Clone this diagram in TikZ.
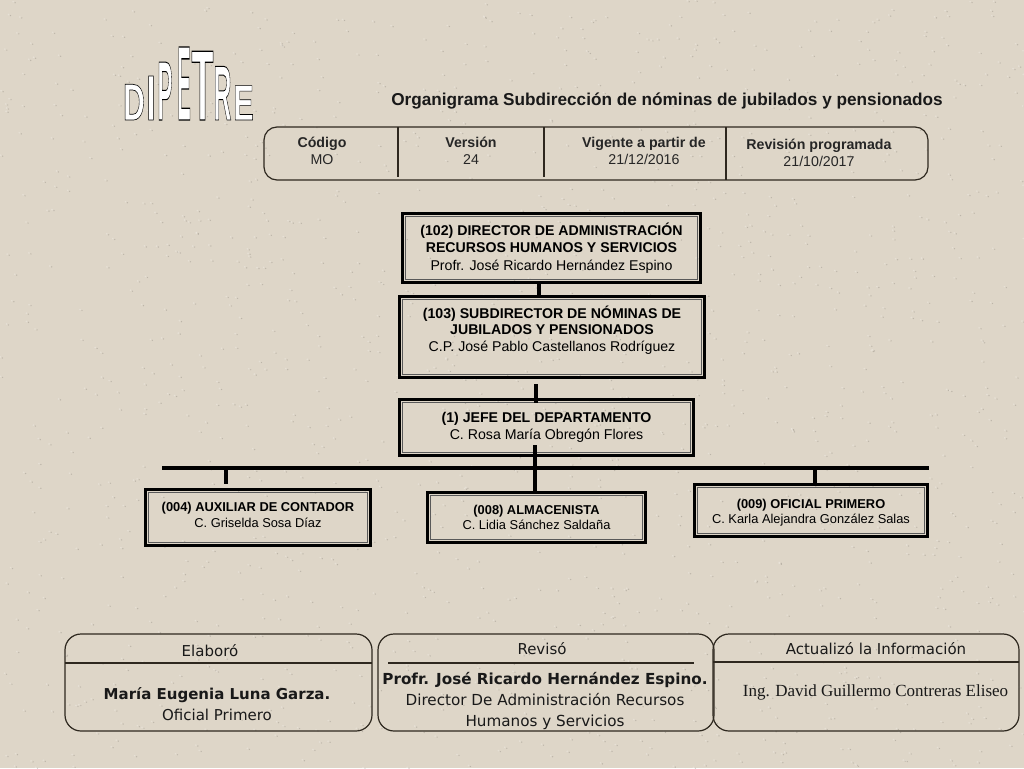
\documentclass[tikz,border=0pt]{standalone}
\usepackage{fontspec}
\setmainfont{Liberation Sans}
\newfontfamily\firmafont{DejaVu Sans}
\newfontfamily\romanfont{Liberation Serif}
\usetikzlibrary{positioning}

\definecolor{papel}{HTML}{DED6C8}
\definecolor{tinta}{HTML}{2E281F}

\tikzset{
  cargo/.style 2 args={draw=black, line width=3.2pt, inner sep=0pt, align=center, font=\fontsize{#1}{#2}\selectfont,
    path picture={\draw[line width=0.8pt, draw=black!65] ([xshift=3.2pt,yshift=-3.2pt]path picture bounding box.north west) rectangle ([xshift=-3.2pt,yshift=3.2pt]path picture bounding box.south east);}},
  linea/.style={line width=3.2pt, draw=black},
  marco/.style={draw=tinta, line width=1.2pt, rounded corners=13pt},
  raya/.style={draw=tinta, line width=1.1pt},
  celda/.style={align=center, font=\fontsize{14.2}{17}\selectfont, text=black!85},
  firma/.style={align=center, font=\firmafont\fontsize{15}{21}\selectfont, text=black!90},
  letra/.style={inner sep=0pt, anchor=base, font=\bfseries\fontsize{40}{40}\selectfont}
}
\newcommand{\hueca}[1]{\special{pdf:code 2 Tr 0.5 w 0 0 0 RG 1 1 1 rg}#1\special{pdf:code 0 Tr}}

\begin{document}
\begin{tikzpicture}[x=1pt, y=-1pt]
\useasboundingbox (0,0) rectangle (1024,768);
\fill[papel] (0,0) rectangle (1024,768);

% paper grain
\pgfmathsetseed{17}
\foreach \i in {1,...,1400} {
  \pgfmathsetmacro{\px}{1024*rnd}
  \pgfmathsetmacro{\py}{768*rnd}
  \fill[white, opacity=0.25] (\px,\py) circle (0.9);
  \fill[black!60!papel, opacity=0.25] (\px+2,\py+1) circle (0.7);
}

% logo
\node[letra, xscale=0.75, yscale=1.3] (d1) at (134,120) {\hueca{D}};
\node[letra, xscale=0.8, yscale=1.6] (i1) at (151,120) {\hueca{I}};
\node[letra, xscale=0.56, yscale=2.1] (p1) at (165,120) {\hueca{P}};
\node[letra, xscale=0.5, yscale=2.65] (e1) at (184,120) {\hueca{E}};
\node[letra, xscale=0.9, yscale=2.5] (t1) at (202.5,120) {\hueca{T}};
\node[letra, xscale=0.62, yscale=1.95] (r1) at (222.5,120) {\hueca{R}};
\node[letra, xscale=0.77, yscale=1.25] (e2) at (243.5,120) {\hueca{E}};

\node[font=\bfseries\fontsize{17.2}{20}\selectfont, text=black!90] (titulo) at (667,101) {Organigrama Subdirección de nóminas de jubilados y pensionados};

% datos del documento
\draw[marco] (264,127) rectangle (928,180);
\coordinate (d1a) at (398,127);
\coordinate (d1b) at (398,177);
\coordinate (d2a) at (544,127);
\coordinate (d2b) at (544,177);
\coordinate (d3a) at (726,127);
\coordinate (d3b) at (726,180);
\draw[raya] (d1a) -- (d1b);
\draw[raya] (d2a) -- (d2b);
\draw[raya] (d3a) -- (d3b);

\node[celda] (codigo) at (322,151) {\textbf{Código}\\MO};
\node[celda] (version) at (471,151) {\textbf{Versión}\\24};
\node[celda] (vigente) at (644,151) {\textbf{Vigente a partir de}\\21/12/2016};
\node[celda] (revision) at (819,153) {\textbf{Revisión programada}\\21/10/2017};

% organigrama
\node[cargo={14.15}{17.3}, minimum width=298pt, minimum height=69pt] (director) at (551.5,248) {\textbf{(102) DIRECTOR DE ADMINISTRACIÓN}\\\textbf{RECURSOS HUMANOS Y SERVICIOS}\\Profr. José Ricardo Hernández Espino};
\node[cargo={14.15}{16.8}, minimum width=305pt, minimum height=81pt] (subdir) at (552,337) {\textbf{(103) SUBDIRECTOR DE NÓMINAS DE}\\\textbf{JUBILADOS Y PENSIONADOS}\\C.P. José Pablo Castellanos Rodríguez\\~};
\node[cargo={14.15}{17.5}, minimum width=294pt, minimum height=56pt] (jefe) at (546.5,427.5) {\textbf{(1) JEFE DEL DEPARTAMENTO}\\C. Rosa María Obregón Flores};
\node[cargo={12.85}{15.5}, minimum width=225pt, minimum height=56pt] (auxiliar) at (258,517.5) {\textbf{(004) AUXILIAR DE CONTADOR}\\C. Griselda Sosa Díaz\\[-10.5pt]};
\node[cargo={12.85}{15.5}, minimum width=218pt, minimum height=50pt] (almacen) at (536.5,517.5) {\textbf{(008) ALMACENISTA}\\C. Lidia Sánchez Saldaña};
\node[cargo={12.85}{15.5}, minimum width=233pt, minimum height=52pt] (oficial) at (811,510.5) {\rule{0pt}{13.5pt}\textbf{(009) OFICIAL PRIMERO}\\C. Karla Alejandra González Salas};

\coordinate (busi) at (162,468);
\coordinate (busd) at (929,468);
\coordinate (bus1) at (226,468);
\coordinate (bus2) at (535,468);
\coordinate (bus3) at (815,468);

\draw[linea] ([xshift=-12.5pt]director.south) -- ([xshift=-13pt]subdir.north);
\draw[linea, shorten <=5pt, shorten >=-5pt] ([xshift=-16pt]subdir.south) -- ([xshift=-10.5pt]jefe.north);
\draw[linea, shorten <=-12pt] ([xshift=-11.5pt]jefe.south) -- (bus2);
\draw[linea] (busi) -- (busd);
\draw[linea, shorten >=4pt] (bus1) -- ([xshift=-32pt]auxiliar.north);
\draw[linea] (bus2) -- ([xshift=-1.5pt]almacen.north);
\draw[linea] (bus3) -- ([xshift=4pt]oficial.north);

% firmas
\draw[marco, rounded corners=16pt] (65,634) rectangle (372,731);
\draw[marco, rounded corners=16pt] (378,634) rectangle (714,731);
\draw[marco, rounded corners=16pt] (713,634) rectangle (1019,731);
\coordinate (f1a) at (65,663);
\coordinate (f1b) at (372,663);
\coordinate (f2a) at (388,663);
\coordinate (f2b) at (694,663);
\coordinate (f3a) at (713,662);
\coordinate (f3b) at (1019,662);
\draw[raya] (f1a) -- (f1b);
\draw[raya] (f2a) -- (f2b);
\draw[raya] (f3a) -- (f3b);

\node[firma] (elaboro) at (210,651) {Elaboró};
\node[firma] (reviso) at (542,649) {Revisó};
\node[firma] (actualizo) at (876,649) {Actualizó la Información};
\node[firma] (maria) at (217,704) {\textbf{María Eugenia Luna Garza.}\\Oficial Primero};
\node[firma, font=\firmafont\fontsize{15.2}{21}\selectfont] (jose) at (545,701) {\textbf{Profr. José Ricardo Hernández Espino.}\\Director De Administración Recursos\\Humanos y Servicios};
\node[firma, font=\romanfont\fontsize{17}{20}\selectfont] (david) at (875.5,692) {Ing. David Guillermo Contreras Eliseo};
\end{tikzpicture}
\end{document}
